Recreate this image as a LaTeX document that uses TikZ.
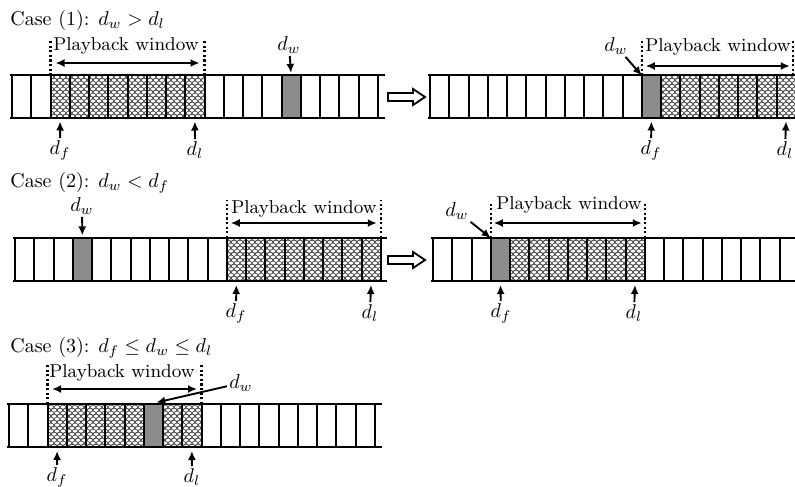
\documentclass[tikz,border=0pt]{standalone}
\usetikzlibrary{arrows.meta,patterns}
\pgfdeclarepatternformonly{scales}{\pgfqpoint{-1.6pt}{-0.2pt}}{\pgfqpoint{4.6pt}{3.2pt}}{\pgfqpoint{3pt}{3pt}}{%
  \pgfsetlinewidth{0.35pt}%
  \pgfpathmoveto{\pgfqpoint{0pt}{0pt}}\pgfpatharc{180}{0}{1.5pt}%
  \pgfpathmoveto{\pgfqpoint{-1.5pt}{1.5pt}}\pgfpatharc{180}{0}{1.5pt}%
  \pgfpathmoveto{\pgfqpoint{1.5pt}{1.5pt}}\pgfpatharc{180}{0}{1.5pt}%
  \pgfusepath{stroke}}
\tikzset{
  cell/.style={draw, line width=1pt, minimum width=9.625pt, minimum height=21.5pt, inner sep=0pt, outer sep=0pt},
  cellk/.code={\ifcase#1\or\pgfkeysalso{/tikz/pattern=scales,/tikz/pattern color=black!70}\or\pgfkeysalso{/tikz/fill=black!45}\fi},
  rowline/.style={line width=1pt},
  dotv/.style={line width=1.1pt, dash pattern=on 1.1pt off 1.2pt},
  dbl/.style={line width=0.9pt, {Latex[length=4.5pt,width=4pt]}-{Latex[length=4.5pt,width=4pt]}},
  arr/.style={line width=0.95pt, -{Latex[length=4.5pt,width=4pt]}},
  txt/.style={inner sep=1pt, font=\fontsize{10}{12}\selectfont},
  pwtxt/.style={inner sep=1pt, font=\fontsize{9.3}{11}\selectfont},
  hollow/.style={line width=0.9pt, fill=white}
}
\newcommand\cellrow[6]{%
  \foreach \i in {0,...,18}{%
    \pgfmathsetmacro\cx{#2+(\i+0.5)*19.25}%
    \def\kk{0}%
    \ifnum\i<#4 \else\ifnum\i>#5 \else\def\kk{1}\fi\fi
    \ifnum\i=#6 \def\kk{2}\fi
    \node[cell,cellk=\kk] (#1\i) at (\cx,#3+21.5) {};
  }%
}
\begin{document}
\begin{tikzpicture}[x=0.5pt,y=-0.5pt]
\useasboundingbox (0,0) rectangle (795,486);
\clip (0,0) rectangle (795,486);

% ---------------- Case 1 ----------------
\node[txt, anchor=west] (case1) at (8,21) {Case (1): $d_w > d_l$};
% left row
\cellrow{A}{12}{75.5}{2}{9}{14}
\draw[rowline] ([xshift=-1pt]A0.north west) -- ([xshift=3.5pt]A18.north east);
\draw[rowline] ([xshift=-1pt]A0.south west) -- ([xshift=3.5pt]A18.south east);
\draw[dotv] (A2.north west) -- ++(0,-35.5);
\draw[dotv] (A9.north east) -- ++(0,-35.5);
\node[pwtxt] (Apw) at (126,46) {Playback window};
\draw[dbl] ([shift={(5,-12.5)}]A2.north west) -- ([shift={(-5,-12.5)}]A9.north east);
\node[txt] (Adw) at (289,45) {$d_w$};
\draw[arr, shorten >=1.3pt] (Adw) -- (A14.north);
\node[txt] (Adf) at (60,150) {$d_f$};
\node[txt] (Adl) at (195,150) {$d_l$};
\draw[arr, shorten >=1.5pt] (Adf) -- (A2.south);
\draw[arr, shorten >=1.5pt] (Adl) -- (A9.south);
% transition arrow
\draw[hollow] (388,93) -- (413,93) -- (413,89) -- (425,97) -- (413,105) -- (413,101) -- (388,101) -- cycle;
% right row
\cellrow{B}{430}{75.5}{12}{18}{11}
\draw[rowline] ([xshift=-1pt]B0.north west) -- ([xshift=3.5pt]B18.north east);
\draw[rowline] ([xshift=-1pt]B0.south west) -- ([xshift=3.5pt]B18.south east);
\draw[dotv] (B11.north west) -- ++(0,-35.5);
\draw[dotv] ([xshift=-1.2pt]B18.north east) -- ++(0,-35.5);
\node[pwtxt] (Bpw) at (718,47) {Playback window};
\draw[dbl] ([shift={(4,-9.5)}]B11.north west) -- ([shift={(-6,-9.5)}]B18.north east);
\node[txt] (Bdw) at (616,46) {$d_w$};
\draw[arr] (Bdw) -- (B11.north west);
\node[txt] (Bdf) at (651,150) {$d_f$};
\node[txt] (Bdl) at (785,150) {$d_l$};
\draw[arr, shorten >=1.5pt] (Bdf) -- (B11.south);
\draw[arr, shorten >=1.5pt] (Bdl) -- (B18.south);

% ---------------- Case 2 ----------------
\node[txt, anchor=west] (case2) at (8,183) {Case (2): $d_w < d_f$};
\cellrow{C}{15}{238}{11}{18}{3}
\draw[rowline] ([xshift=-1pt]C0.north west) -- ([xshift=3pt]C18.north east);
\draw[rowline] ([xshift=-1pt]C0.south west) -- ([xshift=3pt]C18.south east);
\draw[dotv] (C11.north west) -- ++(0,-38);
\draw[dotv] (C18.north east) -- ++(0,-38);
\node[pwtxt] (Cpw) at (304,209) {Playback window};
\draw[dbl] ([shift={(4,-15)}]C11.north west) -- ([shift={(-4,-15)}]C18.north east);
\node[txt] (Cdw) at (82,206) {$d_w$};
\draw[arr, shorten >=1.3pt] (Cdw) -- (C3.north);
\node[txt] (Cdf) at (236,313) {$d_f$};
\node[txt] (Cdl) at (370,313) {$d_l$};
\draw[arr, shorten >=2pt] (Cdf) -- (C11.south);
\draw[arr, shorten >=2pt] (Cdl) -- (C18.south);
\draw[hollow] (388,256) -- (413,256) -- (413,252) -- (425,260) -- (413,268) -- (413,264) -- (388,264) -- cycle;
\cellrow{D}{433}{238}{4}{10}{3}
\draw[rowline] ([xshift=-1pt]D0.north west) -- ([xshift=3pt]D18.north east);
\draw[rowline] ([xshift=-1pt]D0.south west) -- ([xshift=3pt]D18.south east);
\draw[dotv] (D3.north west) -- ++(0,-35);
\draw[dotv] (D10.north east) -- ++(0,-35);
\node[pwtxt] (Dpw) at (569,205) {Playback window};
\draw[dbl] ([shift={(3,-15)}]D3.north west) -- ([shift={(-3,-15)}]D10.north east);
\node[txt] (Ddw) at (457,211) {$d_w$};
\draw[arr] (Ddw) -- (D3.north west);
\node[txt] (Ddf) at (501,313) {$d_f$};
\node[txt] (Ddl) at (634,313) {$d_l$};
\draw[arr, shorten >=2pt] (Ddf) -- (D3.south);
\draw[arr, shorten >=2pt] (Ddl) -- (D10.south);

% ---------------- Case 3 ----------------
\node[txt, anchor=west] (case3) at (8,348) {Case (3): $d_f \le d_w \le d_l$};
\cellrow{E}{9}{404}{2}{9}{7}
\draw[rowline] ([xshift=-1pt]E0.north west) -- ([xshift=3.5pt]E18.north east);
\draw[rowline] ([xshift=-1pt]E0.south west) -- ([xshift=3.5pt]E18.south east);
\draw[dotv] (E2.north west) -- ++(0,-41);
\draw[dotv] (E9.north east) -- ++(0,-41);
\node[pwtxt] (Epw) at (122,373) {Playback window};
\draw[dbl] ([shift={(4.5,-15)}]E2.north west) -- ([shift={(-4.5,-15)}]E9.north east);
\node[txt] (Edw) at (241,383) {$d_w$};
\draw[arr] (Edw) -- ([shift={(3,-1.5)}]E7.north);
\node[txt] (Edf) at (57,477) {$d_f$};
\node[txt] (Edl) at (192,477) {$d_l$};
\draw[arr, shorten >=2pt] (Edf) -- (E2.south);
\draw[arr, shorten >=2pt] (Edl) -- (E9.south);
\end{tikzpicture}
\end{document}
